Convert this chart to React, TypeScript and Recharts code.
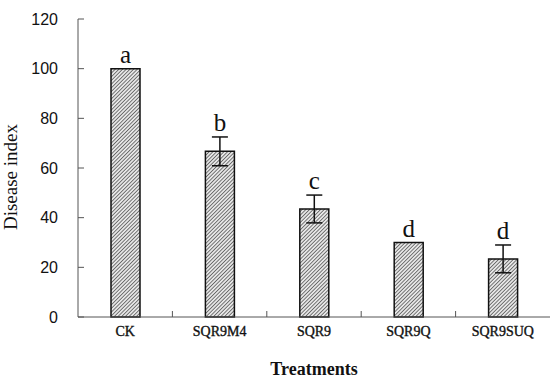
import { BarChart, Bar, XAxis, YAxis, ErrorBar, LabelList } from "recharts";

const treatments = ["CK", "SQR9M4", "SQR9", "SQR9Q", "SQR9SUQ"];
const diseaseIndex = [100, 66.7, 43.5, 30, 23.4];
const stdErr = [0, 5.8, 5.6, 0, 5.6];
const letters = ["a", "b", "c", "d", "d"];
const yTicks = [0, 20, 40, 60, 80, 100, 120];

const data = treatments.map((name, i) => ({
  name,
  value: diseaseIndex[i],
  err: stdErr[i],
  letter: letters[i],
}));

const W = 550;
const H = 379;
const LEFT = 78;
const TOP = 19;
const RIGHT = 0;
const BAND = (W - LEFT - RIGHT) / treatments.length;
const SERIF = "'Liberation Serif', 'Times New Roman', serif";

const YTick = ({ x, y, payload }: any) => (
  <g>
    <line x1={x + 20} x2={x + 26} y1={y} y2={y} stroke="#555" strokeWidth={1} />
    <text
      x={x}
      y={y}
      dy="0.35em"
      textAnchor="end"
      fontFamily="'Liberation Sans', Arial, sans-serif"
      fontSize={16}
      fill="#111"
    >
      {payload.value}
    </text>
  </g>
);

const XTick = ({ x, y, payload, index }: any) => {
  const axisY = y - 19;
  return (
    <g>
      {index > 0 && (
        <line
          x1={x - BAND / 2}
          x2={x - BAND / 2}
          y1={axisY}
          y2={axisY - 6}
          stroke="#555"
          strokeWidth={1}
        />
      )}
      <text
        x={x}
        y={y}
        textAnchor="middle"
        fontFamily={SERIF}
        fontSize={14}
        fill="#111"
        stroke="#111"
        strokeWidth={0.35}
      >
        {payload.value}
      </text>
    </g>
  );
};

const LetterLabel = (props: any) => {
  const { x, y, width, height, index, value } = props;
  const unit = height / diseaseIndex[index];
  const top = y - stdErr[index] * unit;
  return (
    <text
      x={x + width / 2}
      y={top - 6}
      textAnchor="middle"
      fontFamily={SERIF}
      fontSize={25}
      fill="#111"
    >
      {value}
    </text>
  );
};

const YTitle = ({ viewBox }: any) => {
  const cx = 17;
  const cy = viewBox.y + viewBox.height / 2 + 9;
  return (
    <text
      x={cx}
      y={cy}
      transform={`rotate(-90, ${cx}, ${cy})`}
      textAnchor="middle"
      fontFamily={SERIF}
      fontSize={19}
      fill="#111"
    >
      Disease index
    </text>
  );
};

const XTitle = ({ viewBox }: any) => (
  <text
    x={viewBox.x + viewBox.width / 2}
    y={375}
    textAnchor="middle"
    fontFamily={SERIF}
    fontWeight="bold"
    fontSize={18}
    fill="#111"
  >
    Treatments
  </text>
);

export default function App() {
  return (
    <div style={{ position: "fixed", left: 0, top: 0, width: W, height: H, background: "#fff" }}>
      <BarChart
        width={W}
        height={H}
        data={data}
        margin={{ top: TOP, right: RIGHT, left: 0, bottom: 0 }}
        barCategoryGap={0}
      >
        <defs>
          <pattern
            id="hatch"
            width={2.6}
            height={2.6}
            patternUnits="userSpaceOnUse"
            patternTransform="rotate(45)"
          >
            <rect width={2.6} height={2.6} fill="#e6e6e6" />
            <line x1={0} y1={0} x2={0} y2={2.6} stroke="#3a3a3a" strokeWidth={1.3} />
          </pattern>
        </defs>
        <XAxis
          dataKey="name"
          height={62}
          tickSize={0}
          tickMargin={19}
          tickLine={false}
          axisLine={{ stroke: "#555" }}
          tick={<XTick />}
          interval={0}
          label={<XTitle />}
        />
        <YAxis
          width={LEFT}
          domain={[0, 120]}
          ticks={yTicks}
          interval={0}
          tickSize={0}
          tickMargin={20}
          tickLine={false}
          axisLine={{ stroke: "#555" }}
          tick={<YTick />}
          label={<YTitle />}
        />
        <Bar
          dataKey="value"
          barSize={29}
          fill="url(#hatch)"
          stroke="#111"
          strokeWidth={1.5}
          isAnimationActive={false}
        >
          <ErrorBar dataKey="err" width={8} stroke="#111" strokeWidth={1.5} />
          <LabelList dataKey="letter" content={<LetterLabel />} />
        </Bar>
      </BarChart>
    </div>
  );
}
